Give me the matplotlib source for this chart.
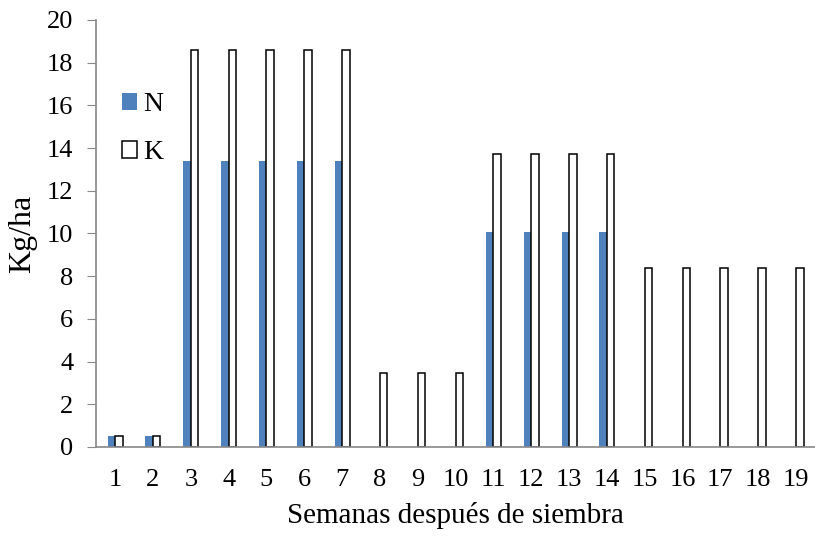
import matplotlib.pyplot as plt
import numpy as np

# Weekly fertilization schedule
weeks = list(range(1, 20))
n_values = [0.5, 0.5, 13.4, 13.4, 13.4, 13.4, 13.4, 0, 0, 0,
            10.05, 10.05, 10.05, 10.05, 0, 0, 0, 0, 0]
k_values = [0.5, 0.5, 18.6, 18.6, 18.6, 18.6, 18.6, 3.45, 3.45, 3.45,
            13.7, 13.7, 13.7, 13.7, 8.4, 8.4, 8.4, 8.4, 8.4]

plt.rcParams['font.family'] = ['Liberation Serif', 'DejaVu Serif']

fig = plt.figure(figsize=(8.15, 5.37), dpi=100)
ax = fig.add_axes([0.118, 0.1676, 0.882, 0.7952])

x = np.array(weeks)
w = 0.2
ax.bar(x - w / 2, n_values, width=w, color='#4F81BD', label='N')
ax.bar(x + w / 2, k_values, width=w, color='white', edgecolor='black',
       linewidth=1.1, label='K')

ax.set_xlim(0.5, 19.5)
ax.set_ylim(0, 20)
ax.set_yticks(range(0, 21, 2))
ax.set_xticks(x)
ax.set_xticklabels([str(v) for v in weeks])
ax.tick_params(axis='x', length=0, labelsize=19, pad=16)
ax.tick_params(axis='y', length=6.5, color='#888888', labelsize=19, pad=10)

for side in ['top', 'right']:
    ax.spines[side].set_visible(False)
for side in ['left', 'bottom']:
    ax.spines[side].set_color('#888888')
    ax.spines[side].set_linewidth(1.2)

ax.set_xlabel('Semanas después de siembra', fontsize=21, labelpad=8)
ax.set_ylabel('Kg/ha', fontsize=23, labelpad=7)

ax.legend(loc='upper left', bbox_to_anchor=(0.036, 0.831), frameon=False,
          fontsize=20, handlelength=0.55, handleheight=0.55, handletextpad=0.2,
          labelspacing=0.83, borderpad=0, borderaxespad=0)

fig.savefig('out.png', dpi=100)
